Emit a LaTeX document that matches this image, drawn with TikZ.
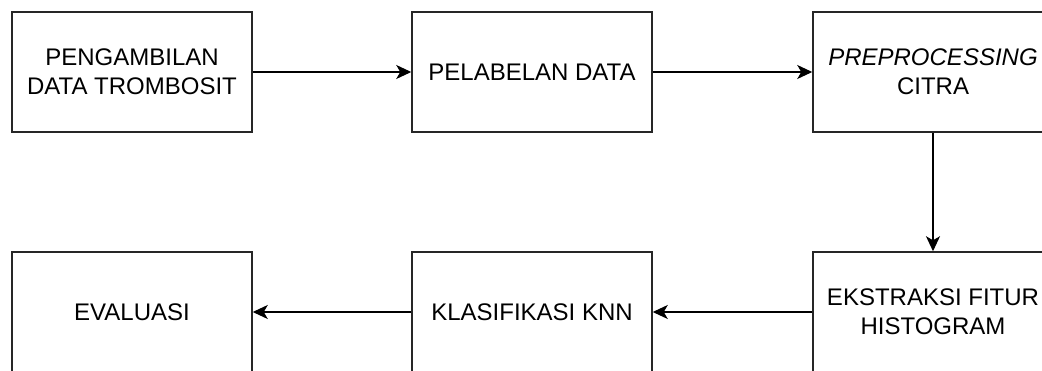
\documentclass[tikz,border=0pt]{standalone}
\usepackage{fontspec}
\setmainfont{Liberation Sans}
\usetikzlibrary{arrows.meta}
\begin{document}
\begin{tikzpicture}[x=1pt,y=-1pt,
  blk/.style={draw=black!85, line width=1.5pt, minimum width=240pt, minimum height=120pt,
    inner sep=0pt, align=center, font=\fontsize{24}{28.8}\selectfont, text=black},
  conn/.style={draw=black, line width=1.5pt, -{Stealth[length=15pt,width=14pt,inset=4pt]}}]
\useasboundingbox (0,0) rectangle (1042,371);
\clip (0,0) rectangle (1042,371);
\node[blk] (a) at (132,72) {PENGAMBILAN\\DATA TROMBOSIT};
\node[blk] (b) at (532,72) {PELABELAN DATA};
\node[blk] (c) at (933,72) {\textit{PREPROCESSING}\\CITRA};
\node[blk] (d) at (933,312) {EKSTRAKSI FITUR\\HISTOGRAM};
\node[blk] (e) at (532,312) {KLASIFIKASI KNN};
\node[blk] (f) at (132,312) {EVALUASI};
\draw[conn] (a) -- (b);
\draw[conn] (b) -- (c);
\draw[conn] (c) -- (d);
\draw[conn] (d) -- (e);
\draw[conn] (e) -- (f);
\end{tikzpicture}
\end{document}
